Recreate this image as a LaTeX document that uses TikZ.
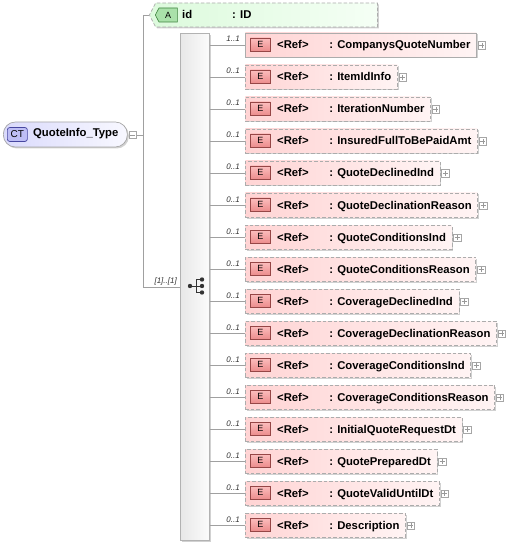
\documentclass[tikz,border=0pt]{standalone}
\usepackage{fontspec}
\setmainfont{Liberation Sans}
\usetikzlibrary{shapes.symbols,shadows,calc}
\definecolor{elemL}{RGB}{255,212,212}
\definecolor{elemR}{RGB}{255,244,244}
\definecolor{ebadgeT}{RGB}{252,190,190}
\definecolor{ebadgeB}{RGB}{236,140,140}
\definecolor{ebadgeD}{RGB}{150,70,70}
\definecolor{attrL}{RGB}{220,250,220}
\definecolor{attrR}{RGB}{245,255,245}
\definecolor{abadge}{RGB}{170,225,170}
\definecolor{abadgeD}{RGB}{60,130,60}
\definecolor{ctL}{RGB}{218,218,252}
\definecolor{ctR}{RGB}{248,248,255}
\definecolor{ctbadge}{RGB}{190,190,245}
\definecolor{ctbadgeD}{RGB}{70,70,160}
\definecolor{lineC}{RGB}{160,160,160}
\newcommand{\nmfont}{\fontsize{11.3}{13}\selectfont\bfseries}
\begin{document}
\begin{tikzpicture}[x=1pt,y=-1pt,
  conn/.style={draw=lineC, line width=0.6pt},
  shad/.style={drop shadow={shadow xshift=1.5pt,shadow yshift=-1.5pt,fill=black,opacity=0.18}},
  elembox/.style={draw=gray!65, line width=0.7pt, left color=elemL, right color=elemR, minimum height=24pt, inner xsep=0pt, inner ysep=0pt, text height=9pt, text depth=1pt, font=\nmfont, shad, dash pattern=on 3.5pt off 2pt},
  solidbox/.style={solid},
  dashbox/.style={},
  ebadge/.style={draw=ebadgeD, line width=0.6pt, top color=ebadgeT, bottom color=ebadgeB, minimum width=20pt, minimum height=13pt, inner sep=0pt, font=\fontsize{9}{10}\selectfont},
  nametext/.style={inner sep=0pt, font=\nmfont},
  reftext/.style={inner sep=0pt, font=\nmfont},
  mult/.style={inner sep=0pt, font=\fontsize{8}{9}\selectfont\itshape, text=black!80},
  plusbox/.style={draw=gray!70, fill=white, minimum size=7.5pt, inner sep=0pt, line width=0.5pt},
]
\useasboundingbox (0,0) rectangle (505,545);
% complex type node
\node[draw=gray!70, line width=0.7pt, rounded corners=12pt, left color=ctL, right color=ctR, minimum width=124pt, minimum height=25pt, anchor=west, shad] (ct) at (3,134.5) {};
\node[draw=ctbadgeD, line width=0.7pt, rounded corners=2.5pt, fill=ctbadge, minimum width=20pt, minimum height=14pt, inner sep=0pt, font=\fontsize{10}{11}\selectfont, anchor=west] (ctb) at (7,134.5) {CT};
\node[nametext, anchor=west] (ctn) at (33,134) {QuoteInfo\_Type};
\node[plusbox] (ctm) at (132.5,135) {};
\draw[gray!80, line width=0.5pt] ($(ctm.west)+(1.5,0)$) -- ($(ctm.east)+(-1.5,0)$);
\coordinate (j) at (143,135);
% sequence bar
\node[draw=gray!60, line width=0.7pt, left color=gray!18, right color=gray!3, minimum width=29pt, minimum height=507pt, inner sep=0pt, anchor=north west, shad] (bar) at (180,33) {};
% sequence icon
\coordinate (ic) at (196,286);
\fill[black!80] (190,286) circle (2.2pt);
\draw[black!80, line width=0.8pt] (190,286) -- (196,286) (196,279.5) -- (196,292.5) (196,279.5) -- (202,279.5) (196,286) -- (202,286) (196,292.5) -- (202,292.5);
\fill[black!80] (202,279.5) circle (2.2pt) (202,286) circle (2.2pt) (202,292.5) circle (2.2pt);
% attribute
\node[signal, signal to=west, signal from=nowhere, signal pointer angle=125, draw=gray!65, line width=0.7pt, dash pattern=on 3.5pt off 2pt, left color=attrL, right color=attrR, minimum width=228pt, minimum height=24pt, inner sep=0pt, anchor=west, shad] (attr) at (149,15) {};
\node[signal, signal to=west, signal from=nowhere, signal pointer angle=125, draw=abadgeD, line width=0.6pt, fill=abadge, minimum width=22pt, minimum height=14pt, inner sep=0pt, font=\fontsize{9}{10}\selectfont, anchor=west] (ab) at (155,15) {A};
\node[nametext, anchor=base west] (an) at (182,19) {id};
\node[nametext, anchor=base west] (at) at (232,19) {: ID};
% connectors from CT
\draw[conn] (ctm.east) -- (j);
\draw[conn] (attr.west) -| (j);
\draw[conn] (j) |- (bar.west);
\node[mult, anchor=base east] (sm) at (177,283) {[1]..[1]};
% elements
\foreach \nm/\st/\mu [count=\i] in {
  CompanysQuoteNumber/solidbox/1..1,
  ItemIdInfo/dashbox/0..1,
  IterationNumber/dashbox/0..1,
  InsuredFullToBePaidAmt/dashbox/0..1,
  QuoteDeclinedInd/dashbox/0..1,
  QuoteDeclinationReason/dashbox/0..1,
  QuoteConditionsInd/dashbox/0..1,
  QuoteConditionsReason/dashbox/0..1,
  CoverageDeclinedInd/dashbox/0..1,
  CoverageDeclinationReason/dashbox/0..1,
  CoverageConditionsInd/dashbox/0..1,
  CoverageConditionsReason/dashbox/0..1,
  InitialQuoteRequestDt/dashbox/0..1,
  QuotePreparedDt/dashbox/0..1,
  QuoteValidUntilDt/dashbox/0..1,
  Description/dashbox/0..1}{
  \pgfmathsetmacro\yy{45+32*(\i-1)}
  \node[elembox,\st,anchor=west] (e\i) at (245,\yy) {\hspace*{84pt}: \nm\hspace*{6pt}};
  \node[ebadge,anchor=west] (b\i) at (250,\yy-0.5) {E};
  \node[reftext,anchor=base west] (r\i) at (277,\yy+4) {<Ref>};
  \node[plusbox,anchor=west] (p\i) at ($(e\i.east)+(1,0.5)$) {};
  \draw[gray!80, line width=0.5pt] ($(p\i.west)+(1.5,0)$) -- ($(p\i.east)+(-1.5,0)$) ($(p\i.north)+(0,1.5)$) -- ($(p\i.south)+(0,-1.5)$);
  \draw[conn] (bar.east |- e\i.west) -- (e\i.west);
  \node[mult,anchor=base east] (m\i) at (240,\yy-3) {\mu};
}
\end{tikzpicture}
\end{document}
